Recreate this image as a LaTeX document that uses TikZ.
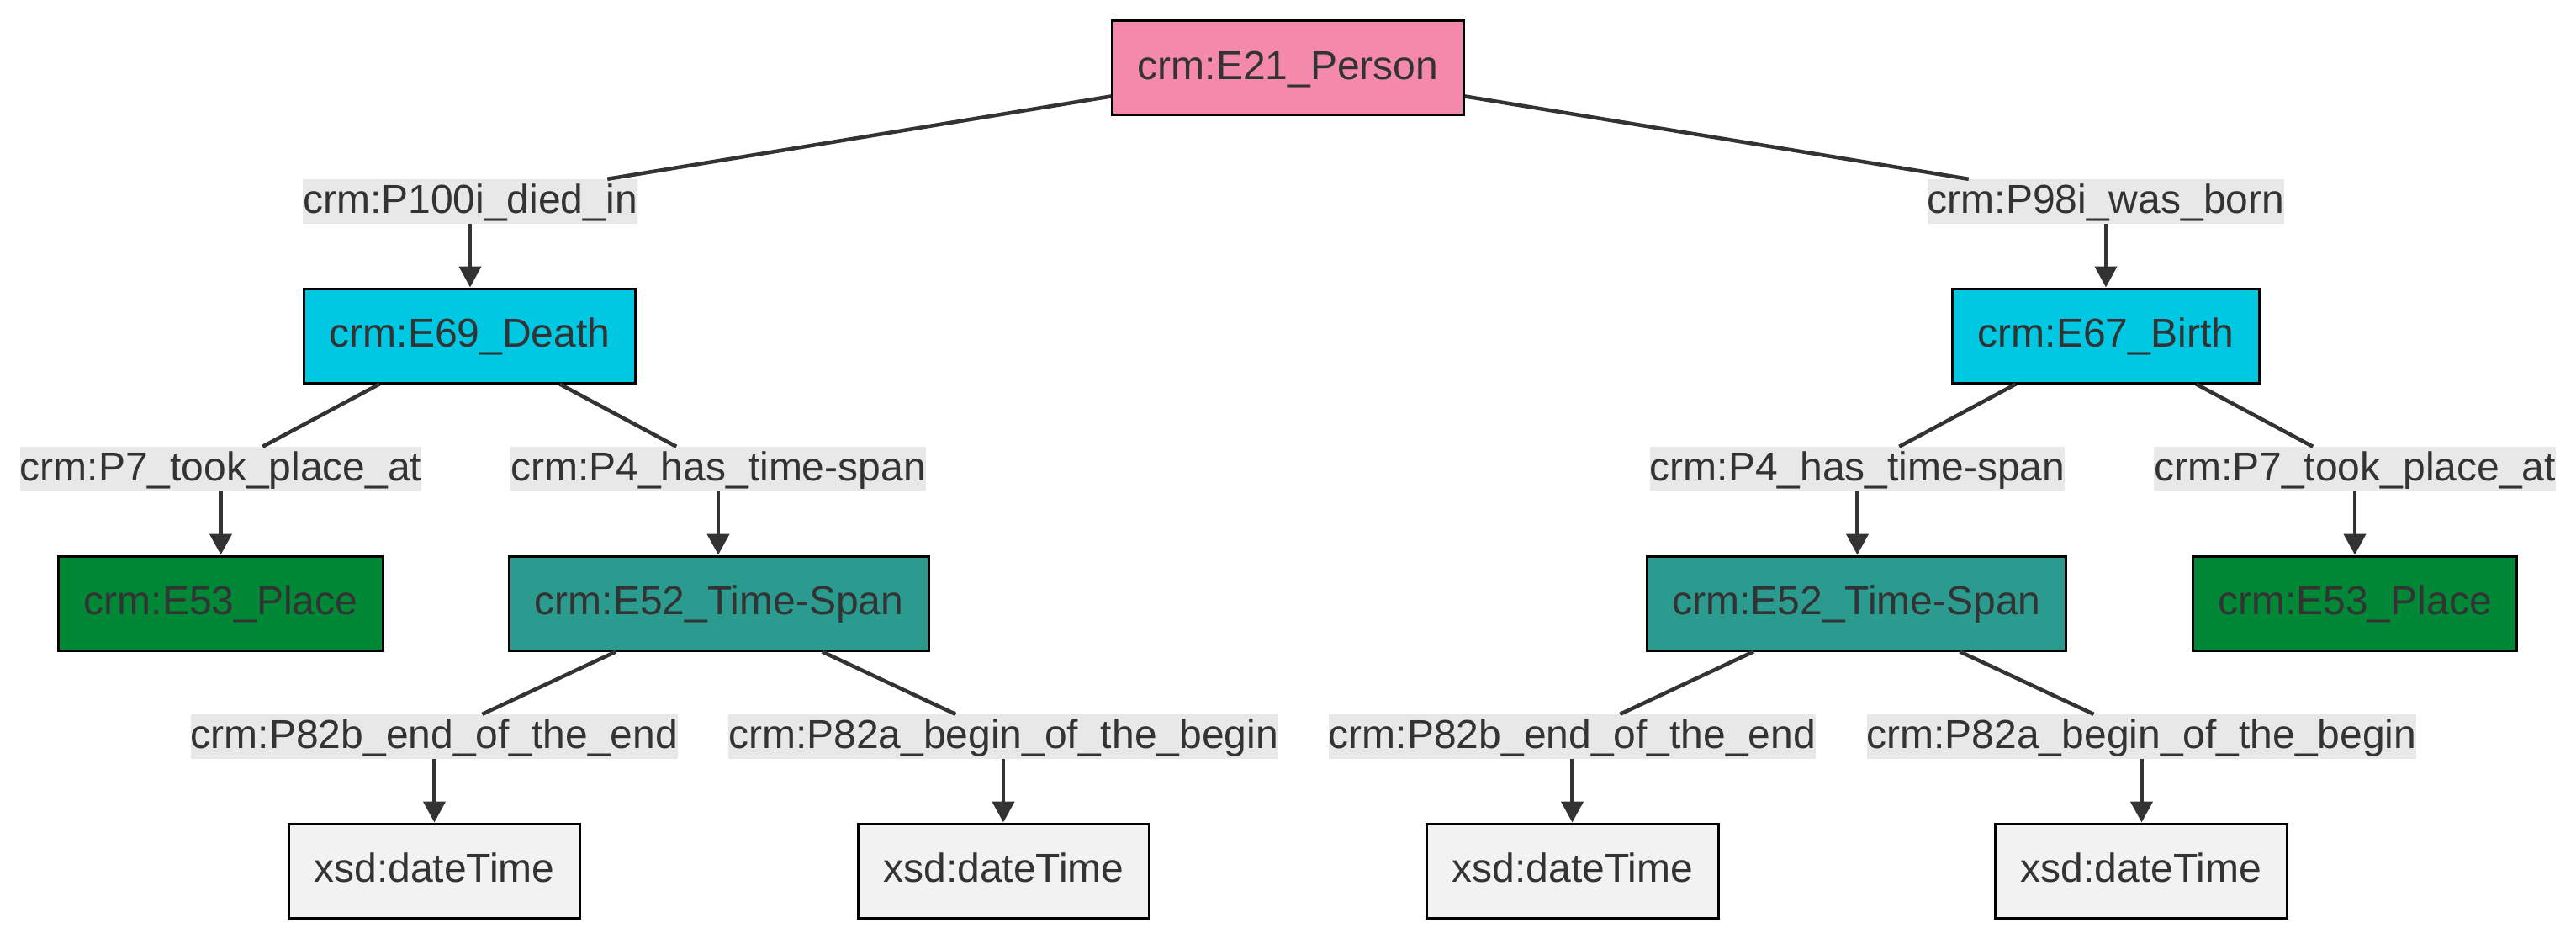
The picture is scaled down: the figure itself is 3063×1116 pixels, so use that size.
\documentclass[tikz,border=0pt]{standalone}
\usepackage{fontspec}
\setmainfont{Liberation Sans}
\usetikzlibrary{arrows.meta}
\definecolor{txt}{HTML}{333333}
\definecolor{pinkc}{HTML}{F589AB}
\definecolor{cyanc}{HTML}{00C7E2}
\definecolor{tealc}{HTML}{2B9B8F}
\definecolor{greenc}{HTML}{008837}
\definecolor{litc}{HTML}{F2F2F2}
\definecolor{lblbg}{HTML}{E8E8E8}
\newcommand{\tstrut}{\rule[-13pt]{0pt}{53pt}}
\begin{document}
\begin{tikzpicture}[x=1pt,y=-1pt,
  box/.style={draw=black, line width=3pt, minimum height=112pt, inner xsep=30pt, inner ysep=0pt,
    text=txt, font=\fontsize{48}{58}\selectfont, execute at begin node=\tstrut},
  lbl/.style={fill=lblbg, inner sep=0pt, minimum height=53pt, text=txt,
    font=\fontsize{48}{58}\selectfont, execute at begin node=\tstrut},
  edge/.style={draw=txt, line width=4.5pt},
  arr/.style={edge, -{Triangle[length=25pt,width=26pt]}}]
\useasboundingbox[fill=white] (0,0) rectangle (3063,1116);
% boxes
\node[box, fill=pinkc] (person) at (1531.5,80.5) {crm:E21\_Person};
\node[box, fill=cyanc] (death) at (558.5,399) {crm:E69\_Death};
\node[box, fill=cyanc] (birth) at (2504,399) {crm:E67\_Birth};
\node[box, fill=greenc] (placeL) at (262.5,717) {crm:E53\_Place};
\node[box, fill=tealc] (timeL) at (855,717) {crm:E52\_Time-Span};
\node[box, fill=tealc] (timeR) at (2207.5,717) {crm:E52\_Time-Span};
\node[box, fill=greenc] (placeR) at (2800,717) {crm:E53\_Place};
\node[box, fill=litc] (x1) at (516.5,1035) {xsd:dateTime};
\node[box, fill=litc] (x2) at (1193.5,1035) {xsd:dateTime};
\node[box, fill=litc] (x3) at (1870,1035) {xsd:dateTime};
\node[box, fill=litc] (x4) at (2546,1035) {xsd:dateTime};
% labels
\node[lbl] (l100) at (559,239.5) {crm:P100i\_died\_in};
\node[lbl] (l98) at (2504,239.5) {crm:P98i\_was\_born};
\node[lbl] (l7L) at (262.5,557.5) {crm:P7\_took\_place\_at};
\node[lbl] (l4L) at (854,557.5) {crm:P4\_has\_time-span};
\node[lbl] (l4R) at (2208.5,557.5) {crm:P4\_has\_time-span};
\node[lbl] (l7R) at (2800,557.5) {crm:P7\_took\_place\_at};
\node[lbl] (l82bL) at (516.5,875.5) {crm:P82b\_end\_of\_the\_end};
\node[lbl] (l82aL) at (1193,875.5) {crm:P82a\_begin\_of\_the\_begin};
\node[lbl] (l82bR) at (1869.5,875.5) {crm:P82b\_end\_of\_the\_end};
\node[lbl] (l82aR) at (2546.5,875.5) {crm:P82a\_begin\_of\_the\_begin};
% edges
\draw[edge] (person) -- (l100);
\draw[arr] (l100.south) -- (l100.south |- death.north);
\draw[edge] (person) -- (l98);
\draw[arr] (l98.south) -- (l98.south |- birth.north);
\draw[edge] (death) -- (l7L);
\draw[arr] (l7L.south) -- (l7L.south |- placeL.north);
\draw[edge] (death) -- (l4L);
\draw[arr] (l4L.south) -- (l4L.south |- timeL.north);
\draw[edge] (birth) -- (l4R);
\draw[arr] (l4R.south) -- (l4R.south |- timeR.north);
\draw[edge] (birth) -- (l7R);
\draw[arr] (l7R.south) -- (l7R.south |- placeR.north);
\draw[edge] (timeL) -- (l82bL);
\draw[arr] (l82bL.south) -- (l82bL.south |- x1.north);
\draw[edge] (timeL) -- (l82aL);
\draw[arr] (l82aL.south) -- (l82aL.south |- x2.north);
\draw[edge] (timeR) -- (l82bR);
\draw[arr] (l82bR.south) -- (l82bR.south |- x3.north);
\draw[edge] (timeR) -- (l82aR);
\draw[arr] (l82aR.south) -- (l82aR.south |- x4.north);
\end{tikzpicture}
\end{document}
